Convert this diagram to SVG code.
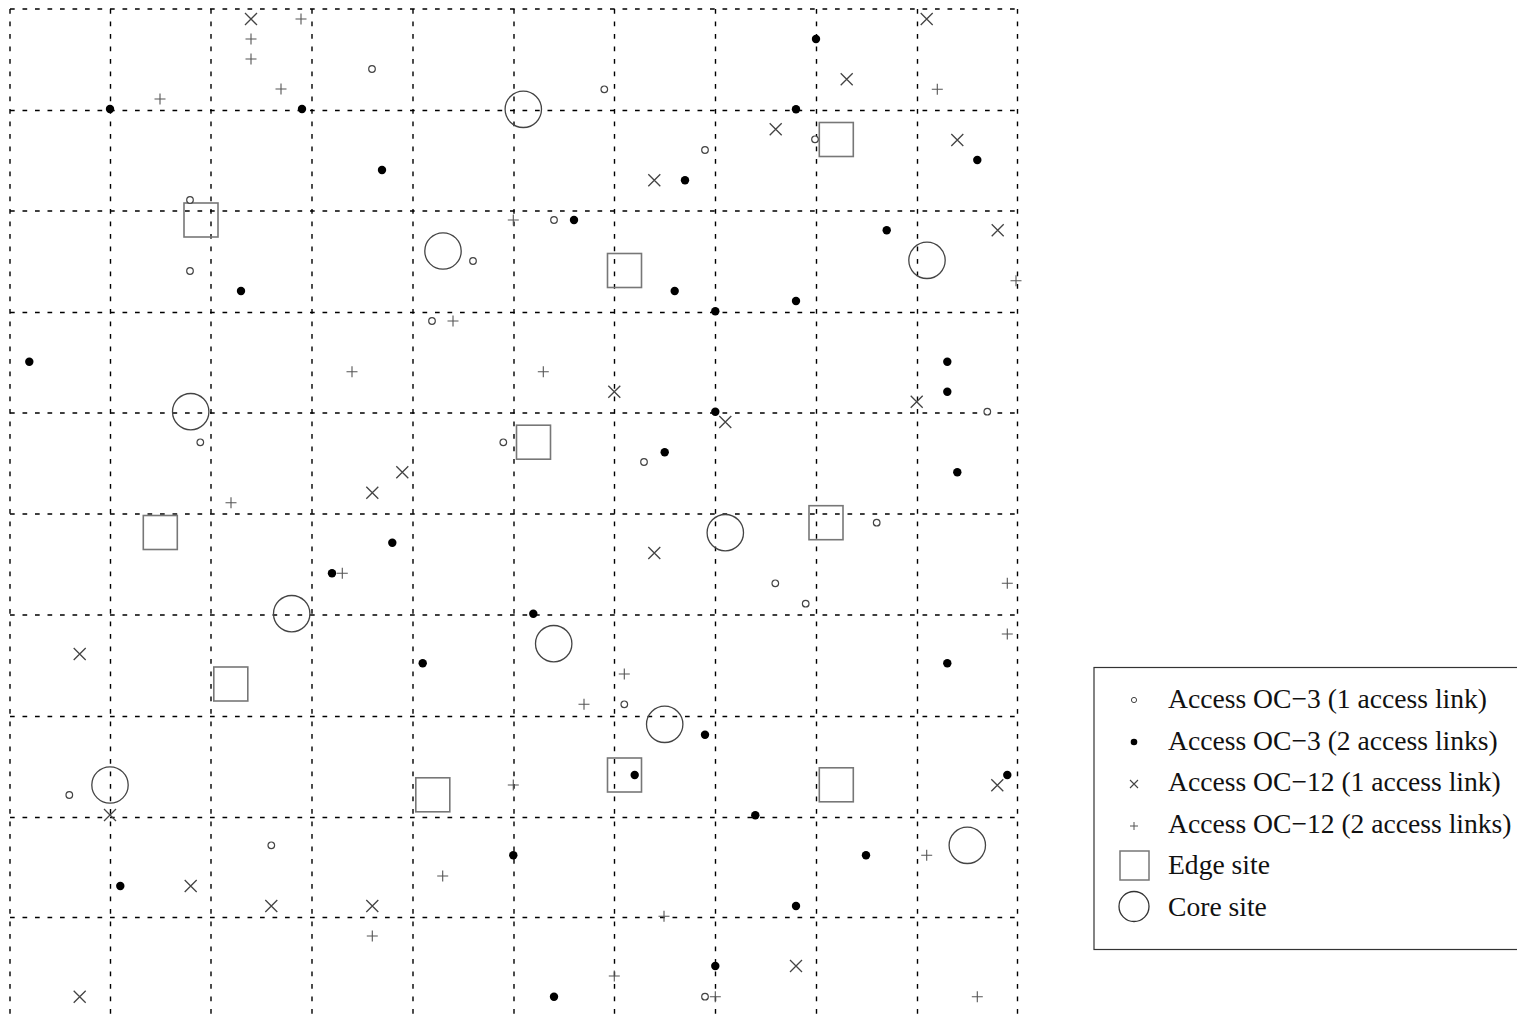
<svg xmlns="http://www.w3.org/2000/svg" xmlns:xlink="http://www.w3.org/1999/xlink" width="1517" height="1015" viewBox="0 0 1517 1015">
<style>
.grid line{stroke:#000;stroke-width:1.4;stroke-dasharray:4.7,7.8}
.lt{font-family:"Liberation Serif","Times New Roman",serif;font-size:27.6px;fill:#111}
</style>
<defs>
<circle id="o" r="3.3" fill="#fff" stroke="#444" stroke-width="1.2"/>
<circle id="d" r="4.2" fill="#000"/>
<path id="x" d="M-6,-6L6,6M-6,6L6,-6" stroke="#444" stroke-width="1.3" fill="none"/>
<path id="p" d="M-5.5,0H5.5M0,-5.5V5.5" stroke="#555" stroke-width="1.1" fill="none"/>
<rect id="sq" x="-17" y="-17" width="34" height="34" fill="none" stroke="#777" stroke-width="1.6"/>
<circle id="c" r="18.2" fill="none" stroke="#444" stroke-width="1.3"/>
</defs>
<rect width="1517" height="1015" fill="#fff"/>
<g id="grid" class="grid">
<line x1="10" y1="9" x2="10" y2="1015"/>
<line x1="110.5" y1="9" x2="110.5" y2="1015"/>
<line x1="211" y1="9" x2="211" y2="1015"/>
<line x1="312" y1="9" x2="312" y2="1015"/>
<line x1="413" y1="9" x2="413" y2="1015"/>
<line x1="514" y1="9" x2="514" y2="1015"/>
<line x1="614.5" y1="9" x2="614.5" y2="1015"/>
<line x1="715.5" y1="9" x2="715.5" y2="1015"/>
<line x1="816.5" y1="9" x2="816.5" y2="1015"/>
<line x1="917.5" y1="9" x2="917.5" y2="1015"/>
<line x1="1017.5" y1="9" x2="1017.5" y2="1015"/>
<line x1="10" y1="9" x2="1018" y2="9"/>
<line x1="10" y1="110.5" x2="1018" y2="110.5"/>
<line x1="10" y1="211" x2="1018" y2="211"/>
<line x1="10" y1="312.5" x2="1018" y2="312.5"/>
<line x1="10" y1="413" x2="1018" y2="413"/>
<line x1="10" y1="514" x2="1018" y2="514"/>
<line x1="10" y1="615" x2="1018" y2="615"/>
<line x1="10" y1="716.5" x2="1018" y2="716.5"/>
<line x1="10" y1="817.5" x2="1018" y2="817.5"/>
<line x1="10" y1="917.5" x2="1018" y2="917.5"/>
</g>
<g id="edge-sites">
<use href="#sq" x="201" y="220"/>
<use href="#sq" x="836.3" y="139.5"/>
<use href="#sq" x="624.5" y="270.5"/>
<use href="#sq" x="533.5" y="442.2"/>
<use href="#sq" x="160.3" y="532.5"/>
<use href="#sq" x="826" y="522.7"/>
<use href="#sq" x="230.8" y="684"/>
<use href="#sq" x="624.5" y="775"/>
<use href="#sq" x="432.8" y="794.8"/>
<use href="#sq" x="836.3" y="784.8"/>
</g>
<g id="core-sites">
<use href="#c" x="523.3" y="109.3"/>
<use href="#c" x="443" y="251"/>
<use href="#c" x="927" y="260.3"/>
<use href="#c" x="190.7" y="411.7"/>
<use href="#c" x="725.3" y="532.7"/>
<use href="#c" x="291.7" y="613.7"/>
<use href="#c" x="553.7" y="643.7"/>
<use href="#c" x="664.7" y="724.3"/>
<use href="#c" x="110" y="785"/>
<use href="#c" x="967.3" y="845.3"/>
</g>
<g id="oc3-1link">
<use href="#o" x="372" y="69"/>
<use href="#o" x="604.3" y="89.3"/>
<use href="#o" x="815" y="139.3"/>
<use href="#o" x="705" y="150"/>
<use href="#o" x="190" y="200"/>
<use href="#o" x="554" y="220"/>
<use href="#o" x="473" y="261"/>
<use href="#o" x="190" y="271"/>
<use href="#o" x="432" y="321"/>
<use href="#o" x="987.3" y="411.7"/>
<use href="#o" x="200.3" y="442.3"/>
<use href="#o" x="503.3" y="442.3"/>
<use href="#o" x="644" y="462"/>
<use href="#o" x="876.7" y="522.7"/>
<use href="#o" x="775.3" y="583.3"/>
<use href="#o" x="805.7" y="603.7"/>
<use href="#o" x="624.3" y="704.3"/>
<use href="#o" x="69.3" y="795"/>
<use href="#o" x="271.3" y="845.3"/>
<use href="#o" x="705" y="996.7"/>
</g>
<g id="oc3-2links">
<use href="#d" x="816" y="39"/>
<use href="#d" x="110" y="109"/>
<use href="#d" x="302" y="109"/>
<use href="#d" x="796" y="109.3"/>
<use href="#d" x="977.3" y="160"/>
<use href="#d" x="382" y="170"/>
<use href="#d" x="685" y="180.3"/>
<use href="#d" x="574" y="220"/>
<use href="#d" x="886.7" y="230.3"/>
<use href="#d" x="241" y="291"/>
<use href="#d" x="674.7" y="291"/>
<use href="#d" x="796" y="301"/>
<use href="#d" x="715.3" y="311.3"/>
<use href="#d" x="29.3" y="361.7"/>
<use href="#d" x="947.3" y="361.7"/>
<use href="#d" x="947.3" y="391.7"/>
<use href="#d" x="715.3" y="411.7"/>
<use href="#d" x="664.7" y="452.3"/>
<use href="#d" x="957.3" y="472.3"/>
<use href="#d" x="392.3" y="542.7"/>
<use href="#d" x="332" y="573.3"/>
<use href="#d" x="533.3" y="613.7"/>
<use href="#d" x="422.7" y="663.3"/>
<use href="#d" x="947.3" y="663.3"/>
<use href="#d" x="705" y="734.7"/>
<use href="#d" x="634.7" y="775"/>
<use href="#d" x="1007.3" y="775"/>
<use href="#d" x="755.3" y="815.3"/>
<use href="#d" x="513.3" y="855.3"/>
<use href="#d" x="866" y="855.3"/>
<use href="#d" x="120.3" y="886"/>
<use href="#d" x="796" y="906"/>
<use href="#d" x="715.3" y="966"/>
<use href="#d" x="554" y="996.7"/>
</g>
<g id="oc12-1link">
<use href="#x" x="251" y="19"/>
<use href="#x" x="926.7" y="19"/>
<use href="#x" x="846.7" y="79.3"/>
<use href="#x" x="775.7" y="129.3"/>
<use href="#x" x="957.3" y="140"/>
<use href="#x" x="654.3" y="180.3"/>
<use href="#x" x="997.7" y="230.3"/>
<use href="#x" x="614.3" y="391.7"/>
<use href="#x" x="916.7" y="401.7"/>
<use href="#x" x="725.3" y="422"/>
<use href="#x" x="402.3" y="472.3"/>
<use href="#x" x="372.3" y="492.7"/>
<use href="#x" x="654.3" y="553"/>
<use href="#x" x="79.7" y="654"/>
<use href="#x" x="997.3" y="785.3"/>
<use href="#x" x="110" y="815"/>
<use href="#x" x="190.7" y="886"/>
<use href="#x" x="271.3" y="906"/>
<use href="#x" x="372.3" y="906"/>
<use href="#x" x="796" y="966"/>
<use href="#x" x="79.7" y="996.7"/>
</g>
<g id="oc12-2links">
<use href="#p" x="301" y="19"/>
<use href="#p" x="251" y="39"/>
<use href="#p" x="251" y="59"/>
<use href="#p" x="281" y="89"/>
<use href="#p" x="160" y="99"/>
<use href="#p" x="937.3" y="89.3"/>
<use href="#p" x="513.3" y="220"/>
<use href="#p" x="1016" y="280.7"/>
<use href="#p" x="453" y="321"/>
<use href="#p" x="352" y="371.7"/>
<use href="#p" x="543.3" y="371.7"/>
<use href="#p" x="231" y="502.7"/>
<use href="#p" x="342.3" y="573.3"/>
<use href="#p" x="1007.3" y="583.3"/>
<use href="#p" x="1007.3" y="634"/>
<use href="#p" x="624.3" y="674"/>
<use href="#p" x="584" y="704.3"/>
<use href="#p" x="513.3" y="785"/>
<use href="#p" x="926.7" y="855.3"/>
<use href="#p" x="442.7" y="876"/>
<use href="#p" x="664" y="916.3"/>
<use href="#p" x="372.3" y="936"/>
<use href="#p" x="614.3" y="976"/>
<use href="#p" x="715.3" y="996.7"/>
<use href="#p" x="977.3" y="996.7"/>
</g>
<g id="legend">
<rect x="1094" y="667.5" width="430" height="282" fill="#fff" stroke="#333" stroke-width="1.2"/>
<circle cx="1134" cy="700" r="2.6" fill="#fff" stroke="#444" stroke-width="1"/>
<circle cx="1134" cy="742" r="3.3" fill="#000"/>
<path d="M1130,780L1138,788M1130,788L1138,780" stroke="#444" stroke-width="1.1" fill="none"/>
<path d="M1130,826H1138M1134,822V830" stroke="#555" stroke-width="1" fill="none"/>
<rect x="1120" y="851" width="29" height="29" fill="none" stroke="#777" stroke-width="1.5"/>
<circle cx="1134" cy="906.5" r="15" fill="none" stroke="#333" stroke-width="1.3"/>
<text class="lt" x="1168" y="708">Access OC&#8722;3 (1 access link)</text>
<text class="lt" x="1168" y="750">Access OC&#8722;3 (2 access links)</text>
<text class="lt" x="1168" y="791">Access OC&#8722;12 (1 access link)</text>
<text class="lt" x="1168" y="833">Access OC&#8722;12 (2 access links)</text>
<text class="lt" x="1168" y="874">Edge site</text>
<text class="lt" x="1168" y="916">Core site</text>
</g>
</svg>
